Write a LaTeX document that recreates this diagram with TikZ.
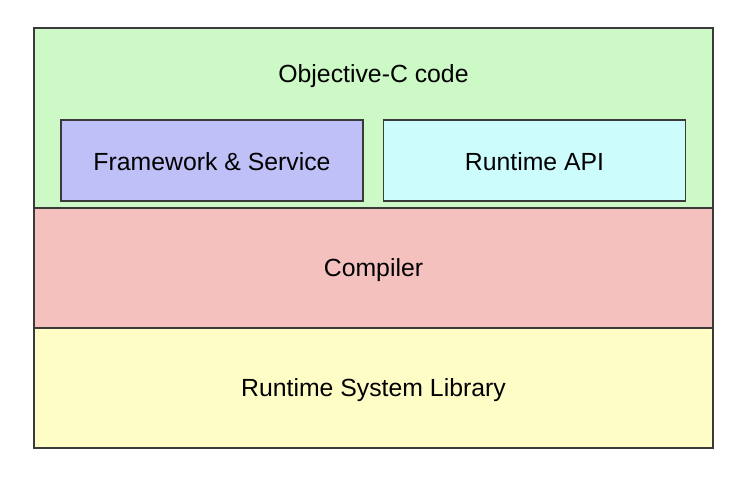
\documentclass[tikz,border=0pt]{standalone}
\usepackage{fontspec}
\setmainfont{Liberation Sans}
\usepackage{tikz}
\definecolor{codegreen}{HTML}{CCF9C6}
\definecolor{fwblue}{HTML}{BFC0F7}
\definecolor{apicyan}{HTML}{CCFCFC}
\definecolor{comppink}{HTML}{F4C1BF}
\definecolor{libyellow}{HTML}{FEFDC6}
\definecolor{edgegray}{HTML}{3A3A3A}

\begin{document}
\begin{tikzpicture}[x=1pt, y=-1pt,
        layer/.style={rectangle,draw=edgegray,line width=1.2pt,inner sep=0pt,minimum width=679pt},
        part/.style={rectangle,draw=edgegray,line width=1.2pt,inner sep=0pt,minimum width=302pt,minimum height=81pt},
        label/.style={font=\fontsize{24.8}{30}\selectfont}]
            \useasboundingbox (0, 0) rectangle (748, 484);

            \node[layer,fill=codegreen,minimum height=180pt] (objc) at (373.5, 118) {};
            \node[layer,fill=comppink,minimum height=120pt] (comp) at (373.5, 268) {};
            \node[layer,fill=libyellow,minimum height=120pt] (lib) at (373.5, 388) {};
            \node[part,fill=fwblue] (fw) at (212, 160.5) {};
            \node[part,fill=apicyan] (api) at (534.5, 160.5) {};

            \node[label] (objctext) at ([yshift=42pt]objc.center) {Objective-C code};
            \node[label] (comptext) at ([yshift=-2pt]comp.center) {Compiler};
            \node[label] (libtext) at ([yshift=-2pt]lib.center) {Runtime System Library};
            \node[label] (fwtext) at ([yshift=-1pt]fw.center) {Framework \& Service};
            \node[label] (apitext) at ([yshift=-1pt]api.center) {Runtime API};
        \end{tikzpicture}
\end{document}
